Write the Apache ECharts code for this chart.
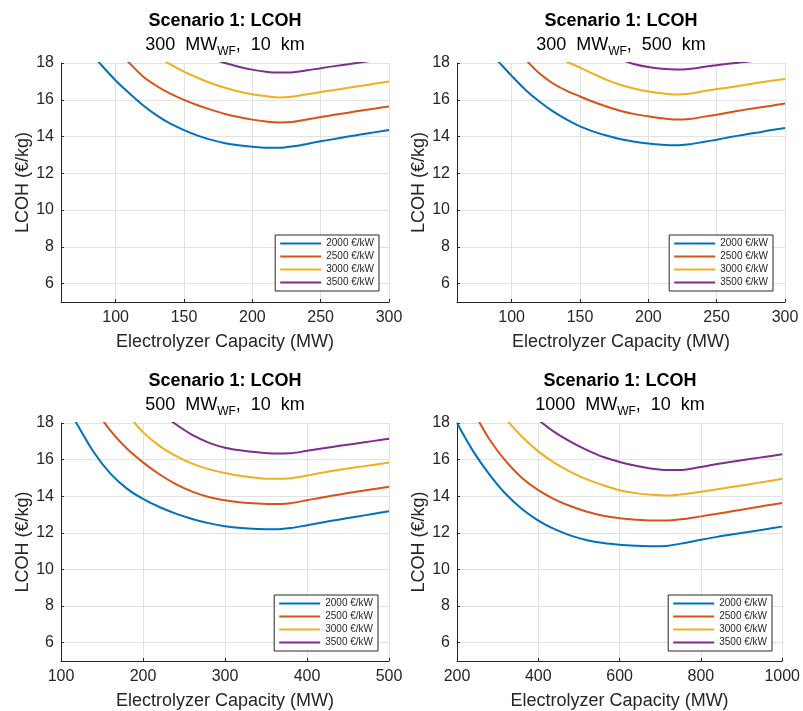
<!DOCTYPE html>
<html><head><meta charset="utf-8">
<script src="https://cdn.jsdelivr.net/npm/echarts@6/dist/echarts.min.js"></script>
<style>html,body{margin:0;padding:0;background:#fff}#c{width:803px;height:711px}</style>
</head><body><div id="c"></div><script>
const seriesNames = ['2000 €/kW', '2500 €/kW', '3000 €/kW', '3500 €/kW'];
const colors = ['#0072BD', '#D95319', '#EDB120', '#7E2F8E'];
const yTicks = [6, 8, 10, 12, 14, 16, 18];

// Panel 1: 300 MW_WF, 10 km
const p1X = [80, 90, 100, 110, 120, 130, 140, 150, 160, 170, 180, 190, 200, 210, 220, 230, 240, 250, 260, 270, 280, 290, 300];
const p1Y2000 = [18.7, 17.85, 17.05, 16.35, 15.7, 15.15, 14.7, 14.35, 14.05, 13.82, 13.64, 13.52, 13.44, 13.39, 13.39, 13.47, 13.6, 13.74, 13.87, 14.0, 14.12, 14.24, 14.35];
const p1Y2500 = [null, null, 18.8, 18.0, 17.27, 16.75, 16.33, 15.99, 15.7, 15.45, 15.23, 15.06, 14.92, 14.82, 14.77, 14.8, 14.93, 15.06, 15.18, 15.3, 15.42, 15.53, 15.64];
const p1Y3000 = [null, null, null, null, null, 18.4, 17.92, 17.53, 17.2, 16.9, 16.65, 16.45, 16.3, 16.2, 16.13, 16.18, 16.3, 16.42, 16.53, 16.65, 16.76, 16.88, 16.99];
const p1Y3500 = [null, null, null, null, null, null, null, null, null, 18.25, 18.0, 17.8, 17.64, 17.53, 17.48, 17.5, 17.6, 17.72, 17.83, 17.93, 18.04, 18.15, 18.26];
const p1XTicks = [100, 150, 200, 250, 300];

// Panel 2: 300 MW_WF, 500 km
const p2X = [80, 90, 100, 110, 120, 130, 140, 150, 160, 170, 180, 190, 200, 210, 220, 230, 240, 250, 260, 270, 280, 290, 300];
const p2Y2000 = [18.9, 18.1, 17.3, 16.55, 15.92, 15.38, 14.93, 14.55, 14.27, 14.04, 13.85, 13.72, 13.62, 13.55, 13.52, 13.58, 13.7, 13.83, 13.97, 14.1, 14.22, 14.35, 14.46];
const p2Y2500 = [null, null, null, 18.2, 17.45, 16.9, 16.5, 16.18, 15.88, 15.62, 15.39, 15.22, 15.1, 14.99, 14.92, 14.95, 15.07, 15.19, 15.32, 15.45, 15.57, 15.68, 15.8];
const p2Y3000 = [null, null, null, null, null, null, 18.08, 17.75, 17.4, 17.07, 16.8, 16.6, 16.45, 16.35, 16.29, 16.33, 16.46, 16.58, 16.68, 16.8, 16.92, 17.03, 17.13];
const p2Y3500 = [null, null, null, null, null, null, null, null, null, null, 18.18, 17.93, 17.78, 17.69, 17.65, 17.68, 17.78, 17.88, 17.97, 18.05, 18.15, 18.25, 18.36];
const p2XTicks = [100, 150, 200, 250, 300];

// Panel 3: 500 MW_WF, 10 km
const p3X = [100, 120, 140, 160, 180, 200, 220, 240, 260, 280, 300, 320, 340, 360, 380, 400, 420, 440, 460, 480, 500];
const p3Y2000 = [19.5, 17.9, 16.4, 15.25, 14.43, 13.85, 13.41, 13.05, 12.76, 12.53, 12.36, 12.26, 12.21, 12.19, 12.26, 12.42, 12.58, 12.73, 12.88, 13.03, 13.18];
const p3Y2500 = [null, null, 18.85, 17.6, 16.62, 15.85, 15.2, 14.66, 14.25, 13.96, 13.78, 13.66, 13.6, 13.57, 13.62, 13.78, 13.95, 14.1, 14.24, 14.38, 14.52];
const p3Y3000 = [null, null, null, null, 18.55, 17.5, 16.75, 16.2, 15.78, 15.48, 15.27, 15.1, 15.0, 14.95, 14.98, 15.13, 15.3, 15.45, 15.58, 15.71, 15.84];
const p3Y3500 = [null, null, null, null, null, null, 18.6, 17.93, 17.35, 16.93, 16.65, 16.5, 16.4, 16.34, 16.35, 16.48, 16.62, 16.76, 16.88, 17.01, 17.14];
const p3XTicks = [100, 200, 300, 400, 500];

// Panel 4: 1000 MW_WF, 10 km
const p4X = [200, 240, 280, 320, 360, 400, 440, 480, 520, 560, 600, 640, 680, 720, 760, 800, 840, 880, 920, 960, 1000];
const p4Y2000 = [18.0, 16.45, 15.18, 14.12, 13.3, 12.67, 12.2, 11.85, 11.6, 11.44, 11.35, 11.3, 11.27, 11.3, 11.45, 11.62, 11.78, 11.92, 12.06, 12.2, 12.34];
const p4Y2500 = [null, 18.65, 17.1, 15.92, 15.0, 14.33, 13.83, 13.45, 13.15, 12.93, 12.8, 12.72, 12.68, 12.68, 12.76, 12.9, 13.04, 13.19, 13.34, 13.49, 13.63];
const p4Y3000 = [null, null, null, 18.22, 17.25, 16.45, 15.82, 15.32, 14.92, 14.6, 14.33, 14.17, 14.08, 14.04, 14.12, 14.25, 14.38, 14.52, 14.66, 14.8, 14.95];
const p4Y3500 = [null, null, null, null, null, 18.17, 17.5, 16.97, 16.52, 16.14, 15.87, 15.66, 15.5, 15.43, 15.45, 15.6, 15.76, 15.9, 16.03, 16.16, 16.29];
const p4XTicks = [200, 400, 600, 800, 1000];

const titleText = 'Scenario 1: LCOH';
const subParts = [['300', '10'], ['300', '500'], ['500', '10'], ['1000', '10']];

const FONT = '"Liberation Sans", Arial, Helvetica, sans-serif';
const panels = [
  {x: p1X, ys: [p1Y2000, p1Y2500, p1Y3000, p1Y3500], xMin: 60, xMax: 300, ticks: p1XTicks,
   grid: {left: 61, top: 63, width: 328, height: 239}, legend: {right: 424, bottom: 420}, ty: 21.5, sy: 45.5},
  {x: p2X, ys: [p2Y2000, p2Y2500, p2Y3000, p2Y3500], xMin: 60, xMax: 300, ticks: p2XTicks,
   grid: {left: 457, top: 63, width: 328, height: 239}, legend: {right: 30, bottom: 420}, ty: 21.5, sy: 45.5},
  {x: p3X, ys: [p3Y2000, p3Y2500, p3Y3000, p3Y3500], xMin: 100, xMax: 500, ticks: p3XTicks,
   grid: {left: 61, top: 423, width: 328, height: 238}, legend: {right: 425, bottom: 60}, ty: 381.5, sy: 405.5},
  {x: p4X, ys: [p4Y2000, p4Y2500, p4Y3000, p4Y3500], xMin: 200, xMax: 1000, ticks: p4XTicks,
   grid: {left: 457, top: 423, width: 326, height: 238}, legend: {right: 31, bottom: 60}, ty: 381.5, sy: 405.5}
];

const axisColor = '#262626';
const gridColor = '#e2e2e2';
const option = {
  animation: false,
  backgroundColor: '#fff',
  textStyle: {fontFamily: FONT},
  grid: panels.map(p => Object.assign({containLabel: false}, p.grid)),
  xAxis: panels.map((p, i) => ({
    type: 'value', gridIndex: i, min: p.xMin, max: p.xMax,
    axisLine: {show: true, onZero: false, lineStyle: {color: axisColor, width: 1}},
    axisTick: {show: true, inside: true, length: 3, customValues: p.ticks, lineStyle: {color: axisColor}},
    axisLabel: {customValues: p.ticks, fontSize: 16, color: axisColor, margin: 8, fontFamily: FONT,
      formatter: v => String(v)},
    splitLine: {show: true, lineStyle: {color: gridColor, width: 1}},
    name: 'Electrolyzer Capacity (MW)', nameLocation: 'middle', nameGap: 31,
    nameTextStyle: {fontSize: 18, color: axisColor, fontFamily: FONT}
  })),
  yAxis: panels.map((p, i) => ({
    type: 'value', gridIndex: i, min: 5, max: 18,
    axisLine: {show: true, onZero: false, lineStyle: {color: axisColor, width: 1}},
    axisTick: {show: true, inside: true, length: 3, customValues: yTicks, lineStyle: {color: axisColor}},
    axisLabel: {customValues: yTicks, fontSize: 16, color: axisColor, margin: 7, fontFamily: FONT,
      formatter: v => String(v)},
    splitLine: {show: true, lineStyle: {color: gridColor, width: 1}},
    name: 'LCOH (€/kg)', nameLocation: 'middle', nameGap: 29,
    nameTextStyle: {fontSize: 18, color: axisColor, fontFamily: FONT}
  })),
  legend: panels.map(p => ({
    data: seriesNames.map(n => ({name: n, icon: 'rect'})),
    orient: 'vertical', right: p.legend.right, bottom: p.legend.bottom,
    backgroundColor: '#fff', borderColor: axisColor, borderWidth: 1, borderRadius: 0,
    padding: [3, 5, 3, 5], itemGap: 2, itemWidth: 41, itemHeight: 2, itemTextGap: 4,
    selectedMode: false,
    textStyle: {fontSize: 10, color: axisColor, fontFamily: FONT, lineHeight: 11, height: 11}
  })),
  series: panels.flatMap((p, i) => p.ys.map((ys, k) => ({
    type: 'line', name: seriesNames[k], xAxisIndex: i, yAxisIndex: i,
    data: p.x.map((xv, j) => [xv, ys[j]]).filter(d => d[1] !== null),
    showSymbol: false, symbol: 'none', smooth: 0.3, clip: true,
    lineStyle: {color: colors[k], width: 2}, itemStyle: {color: colors[k]}
  }))),
  graphic: panels.flatMap((p, i) => {
    const cx = p.grid.left + p.grid.width / 2;
    return [
      {type: 'text', x: cx, y: p.ty, silent: true, style: {
        text: titleText, fontSize: 18, fontWeight: 'bold', fontFamily: FONT, fill: '#000',
        align: 'center', verticalAlign: 'middle'}},
      {type: 'text', x: cx, y: p.sy, silent: true, style: {
        text: '{n|' + subParts[i][0] + '  MW}{s|WF}{n|,  ' + subParts[i][1] + '  km}',
        align: 'center', verticalAlign: 'middle', fill: '#000',
        rich: {
          n: {fontSize: 18, fontFamily: FONT, lineHeight: 25, fill: '#000'},
          s: {fontSize: 12, fontFamily: FONT, lineHeight: 12, verticalAlign: 'bottom', fill: '#000'}
        }}}
    ];
  })
};
const chart = echarts.init(document.getElementById('c'), null, {renderer: 'canvas'});
chart.setOption(option);
</script></body></html>
